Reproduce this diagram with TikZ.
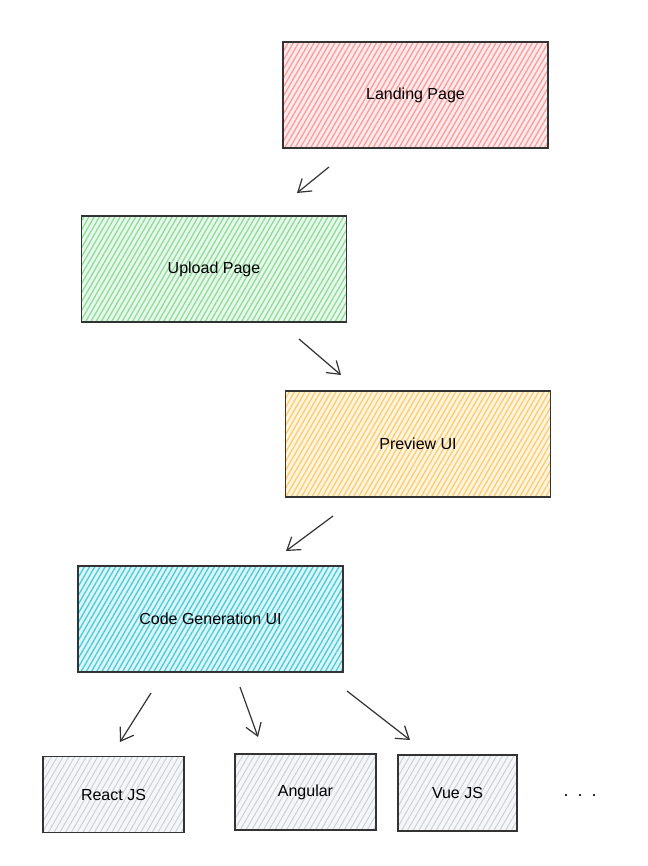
\documentclass[tikz,border=0pt]{standalone}
\usepackage{fontspec}
\setmainfont{Liberation Sans}
\usetikzlibrary{patterns.meta,arrows.meta}

\definecolor{landingred}{HTML}{FF9A9A}
\definecolor{uploadgreen}{HTML}{8EDC9B}
\definecolor{previewyellow}{HTML}{FFCB6B}
\definecolor{codecyan}{HTML}{4ACBDC}
\definecolor{fwgray}{HTML}{CDD1D5}

\begin{document}
\begin{tikzpicture}[x=1pt, y=-1pt,
        page/.style={rectangle, draw=black!80, line width=1.2pt, inner sep=0pt,
            minimum width=265pt, minimum height=106pt, font=\fontsize{16}{18}\selectfont},
        framework/.style={rectangle, draw=black!80, line width=1.2pt, inner sep=0pt,
            minimum height=76pt, font=\fontsize{16}{18}\selectfont,
            preaction={fill=fwgray!20},
            pattern={Lines[angle=60, distance=5pt, line width=1pt]}, pattern color=fwgray},
        hatch/.style={preaction={fill=#1!20}, pattern={Lines[angle=60, distance=4.5pt, line width=1.3pt]}, pattern color=#1},
        flow/.style={draw=black!80, line width=1.2pt, -{Straight Barb[length=12pt, width=16pt]}},]

        \useasboundingbox (0,0) rectangle (647,866);

        % Pages
        \node[page, hatch=landingred] (landing) at (415.5,95) {Landing Page};
        \node[page, hatch=uploadgreen] (upload) at (214,269) {Upload Page};
        \node[page, hatch=previewyellow] (preview) at (418,444) {Preview UI};
        \node[page, hatch=codecyan] (codegen) at (210.5,619) {Code Generation UI};

        % Frameworks
        \node[framework, minimum width=141pt] (react) at (113.5,794.5) {React JS};
        \node[framework, minimum width=141pt] (angular) at (305.5,792) {Angular};
        \node[framework, minimum width=119pt] (vue) at (457.5,793) {Vue JS};
        \node[font=\fontsize{18}{20}\selectfont] (dots) at (580,796) {.\hspace{9pt}.\hspace{9pt}.};

        % Arrow ends
        \coordinate (a1s) at (329,167);  \coordinate (a1e) at (297,193);
        \coordinate (a2s) at (299,339);  \coordinate (a2e) at (341,375);
        \coordinate (a3s) at (333,516);  \coordinate (a3e) at (286,551);
        \coordinate (a4s) at (151,693);  \coordinate (a4e) at (120,742);
        \coordinate (a5s) at (240,687);  \coordinate (a5e) at (258,737);
        \coordinate (a6s) at (347,691);  \coordinate (a6e) at (410,740);

        % Arrows
        \draw[flow] (a1s) -- (a1e);
        \draw[flow] (a2s) -- (a2e);
        \draw[flow] (a3s) -- (a3e);
        \draw[flow] (a4s) -- (a4e);
        \draw[flow] (a5s) -- (a5e);
        \draw[flow] (a6s) -- (a6e);
    \end{tikzpicture}
\end{document}
